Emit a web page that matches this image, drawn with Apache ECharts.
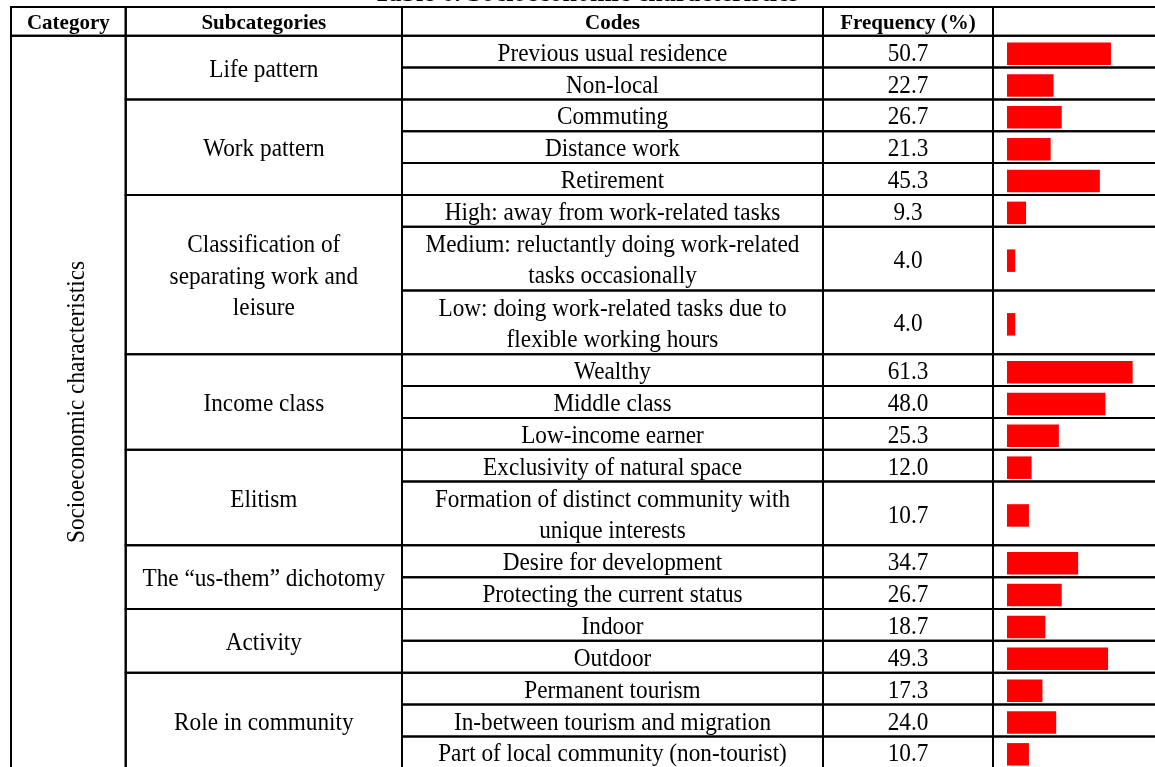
<!DOCTYPE html>
<html>
<head>
<meta charset="utf-8">
<title>Table 6. Socioeconomic characteristics</title>
<script src="https://cdn.jsdelivr.net/npm/echarts@6/dist/echarts.min.js"></script>
<style>
  html, body { margin: 0; padding: 0; background: #fff; }
  #chart { width: 1155px; height: 767px; }
</style>
</head>
<body>
<div id="chart"></div>
<script>
// table content
var tableTitle = 'Table 6. Socioeconomic characteristics'
var headers = ['Category', 'Subcategories', 'Codes', 'Frequency (%)', '']
var category = 'Socioeconomic characteristics'
var subcategories = [
  'Life pattern',
  'Work pattern',
  'Classification of\nseparating work and\nleisure',
  'Income class',
  'Elitism',
  'The \u201cus-them\u201d dichotomy',
  'Activity',
  'Role in community'
]
var codes = [
  'Previous usual residence', 'Non-local',
  'Commuting', 'Distance work', 'Retirement',
  'High: away from work-related tasks',
  'Medium: reluctantly doing work-related\ntasks occasionally',
  'Low: doing work-related tasks due to\nflexible working hours',
  'Wealthy', 'Middle class', 'Low-income earner',
  'Exclusivity of natural space',
  'Formation of distinct community with\nunique interests',
  'Desire for development', 'Protecting the current status',
  'Indoor', 'Outdoor',
  'Permanent tourism', 'In-between tourism and migration', 'Part of local community (non-tourist)'
]
// which subcategory each code belongs to
var codeSubcategory = [0, 0, 1, 1, 1, 2, 2, 2, 3, 3, 3, 4, 4, 5, 5, 6, 6, 7, 7, 7]
var frequency = [50.7, 22.7, 26.7, 21.3, 45.3, 9.3, 4.0, 4.0, 61.3, 48.0, 25.3, 12.0, 10.7, 34.7, 26.7, 18.7, 49.3, 17.3, 24.0, 10.7]

// layout
var canvasW = 1155
var canvasH = 767
var colEdges = [11, 125.7, 402, 823, 993, 1162] // last edge runs past the page
var rowUnitPx = 31.85
var tableTop = 7
var headerSpan = 28.7 / rowUnitPx
var barOrigin = 1007
var barPxPerPct = 2.05
var barHeight = 22.5
var barDrop = 2
var textDrop = 2.5
var verticalTextShift = 9

// row positions (in row units, a two line code takes two units)
var rowStart = []
var rowEnd = []
var acc = 0
codes.forEach(function (c, i) {
  rowStart[i] = acc
  acc += c.split('\n').length
  rowEnd[i] = acc
})
var totalUnits = acc

var cells = []
headers.forEach(function (h, c) {
  cells.push({ col: c, y0: -headerSpan, y1: 0, text: h, bold: true })
})
cells.push({ col: 0, y0: 0, y1: totalUnits, text: category, vertical: true })
subcategories.forEach(function (s, k) {
  var first = codeSubcategory.indexOf(k)
  var last = codeSubcategory.lastIndexOf(k)
  cells.push({ col: 1, y0: rowStart[first], y1: rowEnd[last], text: s })
})
codes.forEach(function (t, i) {
  cells.push({ col: 2, y0: rowStart[i], y1: rowEnd[i], text: t })
  cells.push({ col: 3, y0: rowStart[i], y1: rowEnd[i], text: frequency[i].toFixed(1) })
  cells.push({ col: 4, y0: rowStart[i], y1: rowEnd[i], text: '' })
})

// grids stay inside the page, the table bottom and right edge fall outside
var gridHeight = canvasH - tableTop
var yMax = gridHeight / rowUnitPx - headerSpan
var barGridWidth = canvasW - barOrigin

var chart = echarts.init(document.getElementById('chart'))
var option = {
  animation: false,
  backgroundColor: '#fff',
  graphic: [
    {
      type: 'text',
      x: 586,
      y: -5.5,
      style: {
        text: tableTitle,
        align: 'center',
        verticalAlign: 'middle',
        fontFamily: 'Liberation Serif',
        fontSize: 26,
        fontWeight: 'bold',
        fill: '#000'
      }
    }
  ],
  grid: [
    { left: 0, top: tableTop, width: canvasW, height: gridHeight },
    { left: barOrigin, top: tableTop, width: barGridWidth, height: gridHeight }
  ],
  xAxis: [
    { gridIndex: 0, type: 'value', min: 0, max: canvasW, show: false },
    { gridIndex: 1, type: 'value', min: 0, max: barGridWidth / barPxPerPct, show: false }
  ],
  yAxis: [
    { gridIndex: 0, type: 'value', min: -headerSpan, max: yMax, inverse: true, show: false },
    { gridIndex: 1, type: 'value', min: -headerSpan, max: yMax, inverse: true, show: false }
  ],
  series: [
    {
      name: 'table',
      type: 'custom',
      xAxisIndex: 0,
      yAxisIndex: 0,
      clip: false,
      encode: { x: [0, 2], y: [1, 3] },
      data: cells.map(function (c) {
        return [colEdges[c.col], c.y0, colEdges[c.col + 1], c.y1]
      }),
      renderItem: function (params, api) {
        var c = cells[params.dataIndex]
        var p0 = api.coord([api.value(0), api.value(1)])
        var p1 = api.coord([api.value(2), api.value(3)])
        return {
          type: 'group',
          children: [
            {
              type: 'rect',
              shape: { x: p0[0], y: p0[1], width: p1[0] - p0[0], height: p1[1] - p0[1] },
              style: { fill: 'none', stroke: '#000', lineWidth: 2 }
            },
            {
              type: 'text',
              x: (p0[0] + p1[0]) / 2 + (c.vertical ? verticalTextShift : 0),
              y: (p0[1] + p1[1]) / 2 + (c.vertical ? 0 : textDrop),
              rotation: c.vertical ? Math.PI / 2 : 0,
              scaleX: c.bold ? 1 : 0.93,
              style: {
                text: c.text,
                align: 'center',
                verticalAlign: 'middle',
                fontFamily: 'Liberation Serif',
                fontSize: c.bold ? 21 : 25,
                fontWeight: c.bold ? 'bold' : 'normal',
                lineHeight: 31.5,
                fill: '#000'
              }
            }
          ]
        }
      }
    },
    {
      name: 'Frequency (%)',
      type: 'custom',
      xAxisIndex: 1,
      yAxisIndex: 1,
      clip: false,
      encode: { x: 0, y: 1 },
      data: frequency.map(function (f, i) {
        return [f, (rowStart[i] + rowEnd[i]) / 2]
      }),
      renderItem: function (params, api) {
        var start = api.coord([0, api.value(1)])
        var end = api.coord([api.value(0), api.value(1)])
        return {
          type: 'rect',
          shape: {
            x: start[0],
            y: start[1] - barHeight / 2 + barDrop,
            width: end[0] - start[0],
            height: barHeight
          },
          style: { fill: '#ff0000' }
        }
      }
    }
  ]
}
chart.setOption(option)
window.addEventListener('resize', function () {
  chart.resize()
})
</script>
</body>
</html>
